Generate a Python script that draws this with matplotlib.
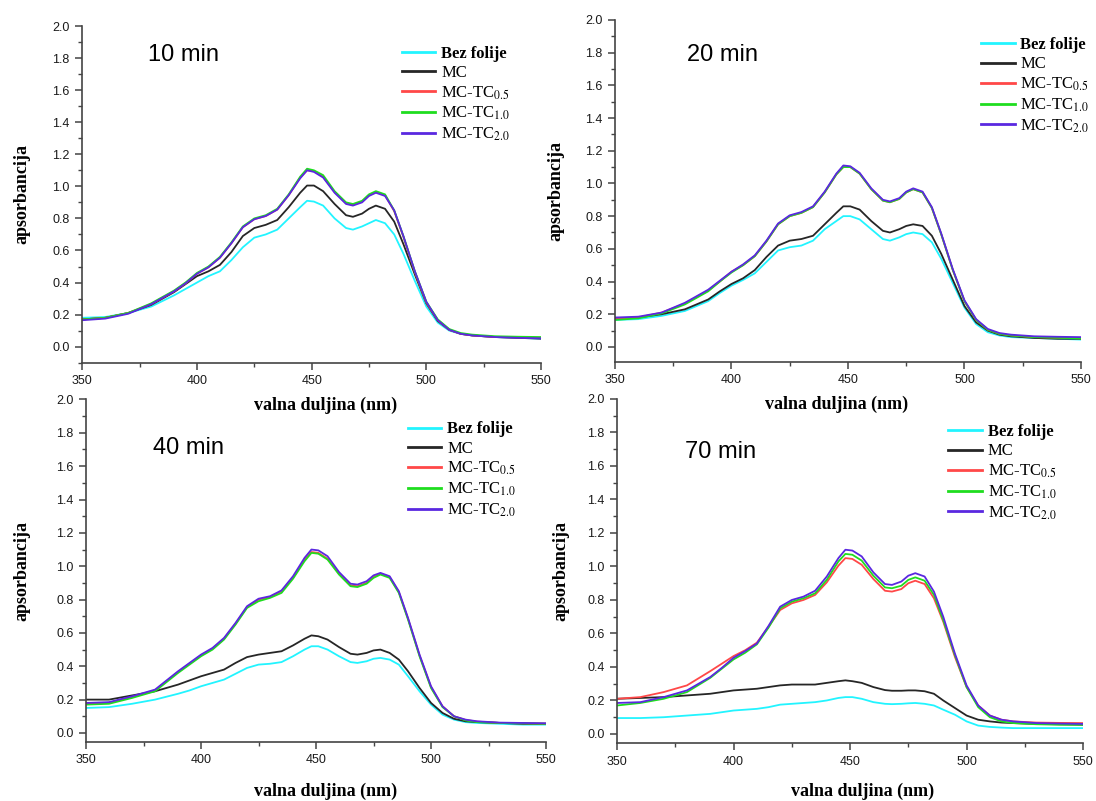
import matplotlib
matplotlib.use('Agg')
import matplotlib.pyplot as plt
from matplotlib.ticker import MultipleLocator

plt.rcParams['mathtext.fontset'] = 'stix'

# wavelength grid (nm)
wavelength = [350, 360, 370, 380, 390, 395, 400, 405, 410, 415, 420, 425, 430, 435,
              440, 445, 448, 451, 455, 460, 465, 468, 472, 475, 478, 482, 486, 490,
              495, 500, 505, 510, 515, 520, 530, 540, 550]

series_names = ['Bez folije', 'MC', r'MC-TC$_{0.5}$', r'MC-TC$_{1.0}$', r'MC-TC$_{2.0}$']
series_colors = ['#22f4ff', '#262626', '#ff4848', '#1fdd1f', '#5a28e0']
panel_titles = ['10 min', '20 min', '40 min', '70 min']

# 10 min
bez_10 = [.18, .185, .21, .25, .32, .36, .40, .44, .47, .54, .62, .68, .70, .73, .80, .87, .91, .905, .88, .80,
          .74, .73, .75, .77, .79, .77, .70, .58, .41, .25, .15, .10, .08, .07, .06, .055, .05]
mc_10 = [.17, .18, .21, .26, .34, .39, .44, .47, .51, .59, .69, .74, .76, .79, .87, .96, 1.005, 1.005, .97, .89,
         .82, .81, .83, .86, .88, .86, .78, .64, .45, .27, .16, .105, .08, .07, .06, .055, .05]
tc05_10 = [.17, .18, .21, .265, .345, .395, .455, .495, .555, .645, .745, .795, .815, .855, .945, 1.055, 1.10, 1.095,
           1.06, .965, .895, .885, .905, .945, .965, .945, .845, .685, .465, .275, .165, .105, .08, .07, .06, .058, .055]
tc10_10 = [.17, .18, .21, .27, .35, .40, .46, .50, .56, .65, .75, .80, .82, .86, .95, 1.06, 1.11, 1.10, 1.07, .97,
           .90, .89, .91, .95, .97, .95, .85, .69, .47, .28, .17, .11, .085, .075, .065, .062, .06]
tc20_10 = [.165, .175, .205, .265, .345, .395, .455, .495, .555, .645, .745, .795, .815, .855, .945, 1.05, 1.10, 1.09,
           1.055, .96, .89, .88, .90, .94, .96, .94, .85, .69, .47, .28, .165, .105, .08, .07, .06, .055, .052]

# 20 min
bez_20 = [.165, .17, .19, .22, .28, .33, .375, .41, .45, .52, .59, .61, .62, .65, .72, .77, .80, .80, .78, .72,
          .66, .65, .67, .69, .70, .69, .64, .54, .39, .24, .14, .09, .07, .06, .055, .05, .045]
mc_20 = [.17, .18, .20, .23, .29, .34, .385, .42, .47, .55, .62, .65, .66, .68, .75, .82, .86, .86, .84, .77,
         .71, .70, .72, .74, .75, .74, .68, .57, .41, .25, .15, .10, .075, .065, .055, .05, .05]
tc05_20 = [.17, .18, .21, .265, .345, .40, .46, .50, .555, .645, .75, .80, .82, .855, .945, 1.055, 1.10, 1.10,
           1.06, .965, .895, .885, .905, .945, .965, .945, .85, .69, .47, .28, .165, .105, .08, .07, .06, .056, .053]
tc10_20 = [.165, .175, .205, .26, .34, .40, .455, .50, .555, .645, .75, .80, .82, .855, .945, 1.055, 1.10, 1.10,
           1.06, .965, .895, .885, .905, .945, .965, .945, .85, .69, .47, .28, .165, .105, .08, .07, .06, .056, .052]
tc20_20 = [.18, .185, .21, .27, .35, .405, .46, .505, .56, .65, .755, .805, .825, .86, .95, 1.06, 1.11, 1.105,
           1.065, .97, .90, .89, .91, .95, .97, .95, .855, .695, .475, .285, .17, .11, .085, .075, .065, .062, .06]

# 40 min
bez_40 = [.15, .155, .175, .20, .235, .255, .28, .30, .32, .355, .39, .41, .415, .425, .46, .50, .52, .52, .50, .46,
          .425, .42, .43, .445, .45, .44, .41, .34, .25, .17, .11, .08, .065, .06, .055, .05, .05]
mc_40 = [.20, .20, .225, .25, .29, .315, .34, .36, .38, .42, .455, .47, .48, .49, .525, .565, .585, .58, .56, .515,
         .475, .47, .48, .495, .50, .48, .44, .37, .27, .18, .12, .085, .07, .065, .06, .055, .055]
tc05_40 = [.175, .18, .215, .255, .365, .415, .465, .505, .565, .655, .755, .80, .815, .85, .93, 1.04, 1.085, 1.08,
           1.045, .955, .885, .88, .90, .935, .955, .935, .845, .685, .465, .275, .16, .10, .078, .068, .06, .058, .056]
tc10_40 = [.17, .175, .21, .25, .36, .41, .46, .50, .56, .65, .75, .79, .81, .84, .925, 1.03, 1.08, 1.075, 1.04, .95,
           .88, .875, .895, .93, .95, .93, .84, .68, .46, .27, .155, .10, .075, .065, .06, .058, .055]
tc20_40 = [.18, .185, .22, .26, .37, .42, .47, .51, .57, .66, .76, .805, .82, .855, .94, 1.05, 1.10, 1.095, 1.06, .965,
           .895, .89, .91, .945, .96, .94, .85, .69, .47, .28, .16, .10, .08, .07, .062, .06, .058]

# 70 min
bez_70 = [.095, .095, .10, .11, .12, .13, .14, .145, .15, .16, .175, .18, .185, .19, .20, .215, .22, .22, .21, .19,
          .18, .178, .18, .183, .185, .18, .17, .145, .115, .075, .05, .042, .038, .035, .035, .035, .035]
mc_70 = [.21, .215, .22, .23, .24, .25, .26, .265, .27, .28, .29, .295, .295, .295, .305, .315, .32, .315, .305, .28,
         .262, .258, .258, .26, .26, .255, .24, .20, .155, .11, .085, .075, .068, .065, .06, .058, .055]
tc05_70 = [.21, .22, .25, .29, .375, .42, .465, .50, .545, .64, .74, .78, .80, .83, .905, 1.005, 1.05, 1.045, 1.01, .925,
           .855, .85, .865, .90, .915, .895, .81, .67, .46, .28, .17, .11, .085, .075, .068, .066, .065]
tc10_70 = [.17, .185, .21, .25, .335, .39, .445, .485, .535, .635, .75, .79, .81, .84, .92, 1.03, 1.075, 1.07, 1.035, .945,
           .875, .87, .885, .92, .935, .915, .83, .68, .47, .28, .16, .10, .075, .065, .058, .055, .055]
tc20_70 = [.185, .19, .22, .26, .34, .395, .455, .495, .54, .645, .76, .80, .82, .855, .94, 1.05, 1.10, 1.095, 1.06, .965,
           .895, .89, .91, .945, .96, .94, .85, .70, .48, .29, .17, .11, .085, .075, .065, .062, .06]

panel_series = [
    [bez_10, mc_10, tc05_10, tc10_10, tc20_10],
    [bez_20, mc_20, tc05_20, tc10_20, tc20_20],
    [bez_40, mc_40, tc05_40, tc10_40, tc20_40],
    [bez_70, mc_70, tc05_70, tc10_70, tc20_70],
]

# layout (figure fractions) and per-panel placement details
axes_rects = [
    [0.0751, 0.5472, 0.4185, 0.4203],
    [0.5611, 0.5481, 0.4252, 0.4270],
    [0.0785, 0.0737, 0.4197, 0.4276],
    [0.5630, 0.0724, 0.4252, 0.4295],
]
y_bottoms = [-0.1, -0.092, -0.054, -0.054]
title_pos = [(378.5, 1.78), (381, 1.75), (379, 1.673), (379, 1.65)]
legend_anchor = [(0.697, 0.942), (0.786, 0.950), (0.70, 0.936), (0.711, 0.927)]
ylabel_x = [-0.113, -0.109, -0.122, -0.103]
xlabel_pos = [(0.53, -0.10), (0.476, -0.098), (0.52, -0.12), (0.526, -0.116)]

fig = plt.figure(figsize=(10.96, 8.01), dpi=100)

for i in range(4):
    ax = fig.add_axes(axes_rects[i])
    ax.patch.set_alpha(0)
    lines = []
    for vals, name, col in zip(panel_series[i], series_names, series_colors):
        ln, = ax.plot(wavelength, vals, color=col, lw=1.3, label=name)
        lines.append(ln)

    ax.set_xlim(350, 550)
    ax.set_ylim(y_bottoms[i], 2.0)
    ax.xaxis.set_major_locator(MultipleLocator(50))
    ax.xaxis.set_minor_locator(MultipleLocator(25))
    ax.yaxis.set_minor_locator(MultipleLocator(0.1))
    ax.set_yticks([k / 10 for k in range(0, 21, 2)])
    ax.set_yticklabels(['%.1f' % (k / 10) for k in range(0, 21, 2)])

    for s in ['top', 'right']:
        ax.spines[s].set_visible(False)
    for s in ['left', 'bottom']:
        ax.spines[s].set_color('#444444')
        ax.spines[s].set_linewidth(1.2)
    ax.tick_params(which='major', direction='out', length=5, width=1.1, color='#444444',
                   labelsize=9, labelcolor='#1a1a1a', pad=4)
    ax.tick_params(which='minor', direction='out', length=3, width=1.0, color='#444444')
    for lab in ax.get_xticklabels() + ax.get_yticklabels():
        lab.set_family('Liberation Sans')

    ax.set_xlabel('valna duljina (nm)', family='Liberation Serif', fontweight='bold', fontsize=13)
    ax.set_ylabel('apsorbancija', family='Liberation Serif', fontweight='bold', fontsize=13)
    ax.xaxis.set_label_coords(*xlabel_pos[i])
    ax.yaxis.set_label_coords(ylabel_x[i], 0.5)

    ax.text(title_pos[i][0], title_pos[i][1], panel_titles[i], family='Liberation Sans',
            fontsize=17, ha='left', va='baseline')

    leg = ax.legend(handles=lines, loc='upper left', bbox_to_anchor=legend_anchor[i],
                    frameon=False, prop={'family': 'Liberation Serif', 'size': 12},
                    handlelength=2.0, handletextpad=0.35, labelspacing=0.2,
                    borderaxespad=0, borderpad=0)
    leg.get_texts()[0].set_fontweight('bold')
    for h in leg.get_lines():
        h.set_linewidth(2.0)

fig.savefig('out.png', dpi=100)
